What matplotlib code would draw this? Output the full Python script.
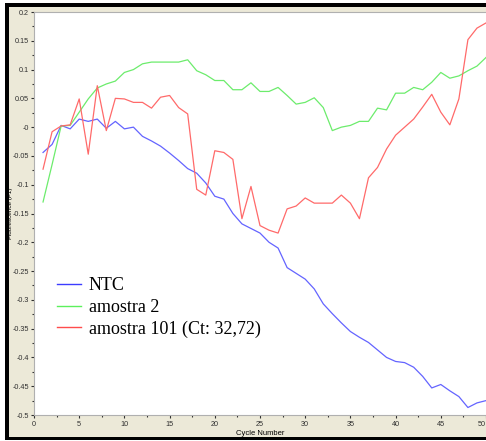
import numpy as np
import matplotlib
matplotlib.use('Agg')
import matplotlib.pyplot as plt
from matplotlib.patches import Rectangle
from matplotlib.lines import Line2D

# cycle-by-cycle fluorescence readings
cycles = np.arange(1, 51)

ntc = [-0.044, -0.030, 0.003, -0.003, 0.014, 0.010, 0.014, -0.002, 0.010, -0.003,
       0.000, -0.016, -0.024, -0.033, -0.045, -0.058, -0.072, -0.080, -0.097, -0.120,
       -0.125, -0.150, -0.168, -0.176, -0.184, -0.200, -0.210, -0.244, -0.254, -0.264,
       -0.281, -0.307, -0.324, -0.340, -0.355, -0.365, -0.374, -0.387, -0.400, -0.407,
       -0.409, -0.417, -0.433, -0.453, -0.447, -0.458, -0.468, -0.487, -0.479, -0.475]

amostra_2 = [-0.130, -0.065, 0.002, 0.003, 0.026, 0.049, 0.068, 0.075, 0.080, 0.095,
             0.100, 0.110, 0.113, 0.113, 0.113, 0.113, 0.117, 0.098, 0.091, 0.081,
             0.081, 0.065, 0.065, 0.077, 0.062, 0.062, 0.069, 0.055, 0.040, 0.043,
             0.051, 0.034, -0.006, 0.000, 0.003, 0.010, 0.010, 0.033, 0.030, 0.059,
             0.059, 0.069, 0.065, 0.078, 0.095, 0.085, 0.089, 0.098, 0.106, 0.121]

amostra_101 = [-0.073, -0.008, 0.002, 0.004, 0.049, -0.047, 0.072, -0.006, 0.050, 0.049,
               0.043, 0.043, 0.033, 0.052, 0.055, 0.034, 0.023, -0.108, -0.118, -0.041,
               -0.044, -0.056, -0.159, -0.103, -0.171, -0.179, -0.184, -0.142, -0.137, -0.123,
               -0.132, -0.132, -0.132, -0.118, -0.132, -0.159, -0.088, -0.070, -0.038, -0.014,
               0.000, 0.014, 0.035, 0.057, 0.026, 0.004, 0.049, 0.152, 0.172, 0.181]

labels = ['NTC', 'amostra 2', 'amostra 101 (Ct: 32,72)']
colors = ['#6464ff', '#6cec6c', '#ff6a6a']
legend_colors = ['#3c3cff', '#5cf05c', '#ff4c4c']

W, H = 486, 441
fig = plt.figure(figsize=(W / 100, H / 100), dpi=100)
fig.patch.set_facecolor('white')

# window frame: black border on left/top/bottom, beige panel inside
fig.add_artist(Rectangle((5 / W, 1 / H), 1 - 5 / W, 1 - 4 / H, transform=fig.transFigure,
                         facecolor='black', edgecolor='none', zorder=0))
fig.add_artist(Rectangle((9 / W, 4 / H), 1 - 9 / W, 1 - 11 / H, transform=fig.transFigure,
                         facecolor='#ece9d8', edgecolor='none', zorder=0))

left, top, bottom = 34, 12, 415
ax = fig.add_axes([left / W, 1 - bottom / H, (W - left) / W, (bottom - top) / H])
ax.set_facecolor('white')

for vals, c in zip([ntc, amostra_2, amostra_101], colors):
    ax.plot(cycles, vals, color=c, lw=0.9)

ax.set_xlim(0, 50)
ax.set_ylim(-0.5, 0.2)
ax.set_xticks(np.arange(0, 51, 5))
ax.set_xticks(np.arange(0, 51, 2.5), minor=True)
ax.set_yticks(np.arange(-0.5, 0.201, 0.05))
ax.set_yticks(np.arange(-0.5, 0.201, 0.025), minor=True)
ax.set_yticklabels(['%g' % round(v, 2) for v in np.arange(-0.5, 0.201, 0.05)])

ax.tick_params(which='both', direction='out', colors='#303030', labelsize=5.2,
               width=0.8)
ax.tick_params(which='major', length=2.5, pad=1)
ax.tick_params(which='minor', length=1.2)
ax.tick_params(axis='x', pad=2)
for t in ax.get_xticklabels() + ax.get_yticklabels():
    t.set_family('Liberation Sans')
# last x label sits on the window edge, pull it in a little
ax.get_xticklabels()[-1].set_horizontalalignment('right')

for s in ['left', 'top', 'bottom']:
    ax.spines[s].set_color('#b0b0b0')
    ax.spines[s].set_linewidth(0.8)
ax.spines['right'].set_visible(False)

ax.set_xlabel('Cycle Number', fontsize=5.5, family='Liberation Sans', va='center')
ax.xaxis.set_label_coords(0.5, -(433.5 - bottom) / (bottom - top))
ax.set_ylabel('Fluorescence (F1)', fontsize=4.6, family='Liberation Sans', va='center')
ax.yaxis.set_label_coords(-(left - 10) / (W - left), 0.5)

handles = [Line2D([], [], color=c, lw=1.0) for c in legend_colors]
ax.legend(handles, labels, loc='upper left', bbox_to_anchor=(0.051, 0.342),
          frameon=False, prop={'family': 'Liberation Serif', 'size': 13},
          handlelength=1.35, handletextpad=0.4, labelspacing=0.26,
          borderaxespad=0, borderpad=0)

fig.savefig('out.png', dpi=100, facecolor=fig.get_facecolor())
